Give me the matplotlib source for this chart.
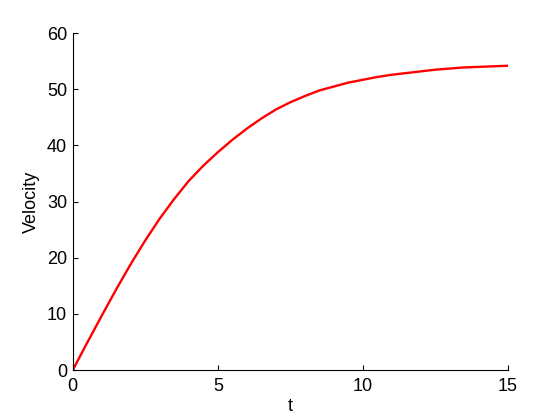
import matplotlib
matplotlib.use("Agg")
import matplotlib.pyplot as plt

# velocity, every half second
t = [0.0, 0.5, 1.0, 1.5, 2.0, 2.5, 3.0, 3.5, 4.0, 4.5, 5.0,
     5.5, 6.0, 6.5, 7.0, 7.5, 8.0, 8.5, 9.0, 9.5, 10.0,
     10.5, 11.0, 11.5, 12.0, 12.5, 13.0, 13.5, 14.0, 14.5, 15.0]
velocity = [0.0, 4.9, 9.7, 14.4, 18.9, 23.1, 27.0, 30.5, 33.7, 36.4, 38.8,
            41.0, 43.0, 44.8, 46.4, 47.7, 48.8, 49.8, 50.5, 51.2, 51.7,
            52.2, 52.6, 52.9, 53.2, 53.5, 53.7, 53.9, 54.0, 54.1, 54.2]
x_ticks = [0, 5, 10, 15]
y_ticks = [0, 10, 20, 30, 40, 50, 60]

plt.rcParams["font.family"] = ["Liberation Sans", "DejaVu Sans"]
plt.rcParams["font.size"] = 13

fig = plt.figure(figsize=(5.6, 4.2), dpi=100)
ax = fig.add_axes([0.130, 0.119, 0.777, 0.802])
ax.plot(t, velocity, color="red", linewidth=1.7)

ax.set_xlim(0, 15)
ax.set_ylim(0, 60)
ax.set_xticks(x_ticks)
ax.set_yticks(y_ticks)
ax.spines["top"].set_visible(False)
ax.spines["right"].set_visible(False)
for s in ("left", "bottom"):
    ax.spines[s].set_linewidth(0.8)
ax.tick_params(axis="both", direction="in", length=3.5, width=0.8)
ax.tick_params(axis="x", pad=6)
ax.tick_params(axis="y", pad=4)

ax.set_xlabel("t", labelpad=2)
ax.set_ylabel("Velocity", labelpad=5)

fig.savefig("out.png", dpi=100)
